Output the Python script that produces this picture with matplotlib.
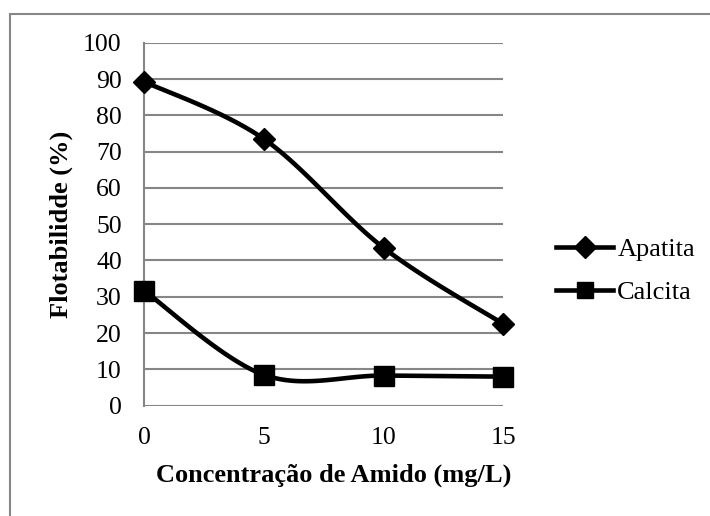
import numpy as np
import matplotlib
matplotlib.use("Agg")
from matplotlib import pyplot as plt
from matplotlib.patches import Rectangle
from matplotlib.lines import Line2D

plt.rcParams['font.family'] = ['Liberation Serif', 'DejaVu Serif']

# data
concentracao = [0, 5, 10, 15]
apatita = [89.3, 73.5, 43.5, 22.5]
calcita = [31.7, 8.5, 8.3, 8.0]


def smooth(xs, ys, n=40):
    # Excel-like smoothed line (Catmull-Rom as cubic Bezier)
    x = np.array(xs, float)
    y = np.array(ys, float)
    px = np.concatenate([[x[0]], x, [x[-1]]])
    py = np.concatenate([[y[0]], y, [y[-1]]])
    outx, outy = [], []
    t = np.linspace(0, 1, n)
    for i in range(len(x) - 1):
        p0 = np.array([x[i], y[i]])
        p3 = np.array([x[i + 1], y[i + 1]])
        p1 = p0 + (np.array([px[i + 2], py[i + 2]]) - np.array([px[i], py[i]])) / 6
        p2 = p3 - (np.array([px[i + 3], py[i + 3]]) - np.array([px[i + 1], py[i + 1]])) / 6
        b = ((1 - t) ** 3)[:, None] * p0 + (3 * (1 - t) ** 2 * t)[:, None] * p1 \
            + (3 * (1 - t) * t ** 2)[:, None] * p2 + (t ** 3)[:, None] * p3
        outx.extend(b[:, 0])
        outy.extend(b[:, 1])
    return outx, outy


fig = plt.figure(figsize=(7.1, 5.16), dpi=100)
ax = fig.add_axes([0.2028, 0.2138, 0.5061, 0.7034])

grid_col = '#868686'
sx, sy = smooth(concentracao, apatita)
ax.plot(sx, sy, color='black', lw=3.3, solid_capstyle='round', zorder=3)
ax.plot(concentracao, apatita, 'D', color='black', ms=11, zorder=4, clip_on=False)
sx, sy = smooth(concentracao, calcita)
ax.plot(sx, sy, color='black', lw=3.3, solid_capstyle='round', zorder=3)
ax.plot(concentracao, calcita, 's', color='black', ms=14, zorder=4, clip_on=False)

ax.set_xlim(0, 15)
ax.set_ylim(0, 100)
ax.set_xticks([0, 5, 10, 15])
ax.set_yticks(range(0, 101, 10))
ax.yaxis.grid(True, color=grid_col, lw=1.5)
ax.set_axisbelow(True)
for s in ['top', 'right', 'bottom']:
    ax.spines[s].set_visible(False)
ax.spines['left'].set_color(grid_col)
ax.spines['left'].set_linewidth(1.5)
ax.tick_params(length=0, labelsize=18.5)
ax.tick_params(axis='x', pad=15)
ax.tick_params(axis='y', pad=16)

ax.set_xlabel('Concentração de Amido (mg/L)', fontsize=19, fontweight='bold',
              labelpad=11, x=0.528)
ax.set_ylabel('Flotabilidde (%)', fontsize=19, fontweight='bold', labelpad=7)

handles = [Line2D([], [], color='black', lw=3.3, marker='D', ms=11),
           Line2D([], [], color='black', lw=3.3, marker='s', ms=12)]
fig.legend(handles, ['Apatita', 'Calcita'], loc='center left',
           bbox_to_anchor=(0.765, 0.475), frameon=False, fontsize=19,
           handlelength=2.16, handletextpad=0.15, labelspacing=0.75, borderpad=0)

fig.add_artist(Rectangle((10 / 710, -0.1), 1.2, 1.1 - 14 / 516,
                         transform=fig.transFigure, fill=False,
                         edgecolor=grid_col, lw=1.5, clip_on=False))

fig.savefig('out.png', dpi=100)
